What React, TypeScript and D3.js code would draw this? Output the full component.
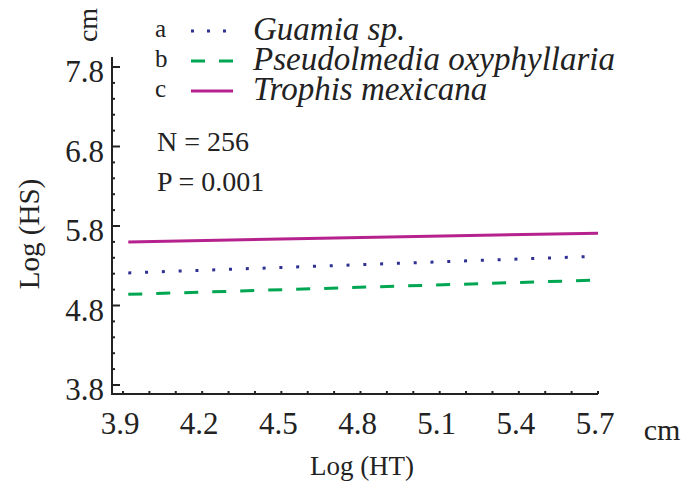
import React from "react";
import * as d3 from "d3";

const W = 686;
const H = 484;

// data
const species = ["Guamia sp.", "Pseudolmedia oxyphyllaria", "Trophis mexicana"];
const letters = ["a", "b", "c"];
const colors = ["#2e3192", "#00a651", "#b5228e"];
const dashes = ["3 13.8", "14 14", null];
const lineX = [3.92, 5.7];
const guamiaY = [5.21, 5.42];
const pseudoY = [4.94, 5.12];
const trophisY = [5.6, 5.71];
const seriesY = [guamiaY, pseudoY, trophisY];

const xTickLabels = [3.9, 4.2, 4.5, 4.8, 5.1, 5.4, 5.7];
const yTickLabels = [3.8, 4.8, 5.8, 6.8, 7.8];

const FONT = "'Times New Roman', 'Liberation Serif', 'DejaVu Serif', serif";

const App = () => {
  const xScale = d3.scaleLinear().domain([3.9, 5.7]).range([123, 598]);
  const yScale = d3.scaleLinear().domain([3.8, 7.8]).range([385, 67]);

  const axisLeft = 112;
  const axisBottom = 394;

  const xMinor = d3.range(39, 58).map((d) => d / 10);
  const yMinor = d3.range(19, 40).map((d) => d / 5);

  const line = d3
    .line<[number, number]>()
    .x((d) => xScale(d[0]))
    .y((d) => yScale(d[1]));

  return (
    <svg
      width={W}
      height={H}
      style={{ position: "absolute", left: 0, top: 0, background: "#fff" }}
    >
      <g style={{ fontFamily: FONT }}>
      {/* axes */}
      <g stroke="#222" strokeWidth={2} fill="none">
        <line x1={axisLeft} y1={57} x2={axisLeft} y2={axisBottom + 1} />
        <line x1={axisLeft - 1} y1={axisBottom} x2={598} y2={axisBottom} />
        {yMinor.map((v, i) => {
          const major = Math.abs(v - Math.round(v - 0.8) - 0.8) < 1e-6;
          return (
            <line
              key={"ym" + i}
              x1={axisLeft}
              x2={axisLeft + (major ? 8 : 3)}
              y1={yScale(v)}
              y2={yScale(v)}
            />
          );
        })}
        {xMinor.map((v, i) => (
          <line
            key={"xm" + i}
            x1={xScale(v)}
            x2={xScale(v)}
            y1={axisBottom}
            y2={axisBottom - 3}
          />
        ))}
      </g>

      {/* tick labels */}
      <g fontSize={31} fill="#222">
        {yTickLabels.map((v) => (
          <text key={"yl" + v} x={104} y={yScale(v) + 15} textAnchor="end">
            {v.toFixed(1)}
          </text>
        ))}
        {xTickLabels.map((v) => (
          <text key={"xl" + v} x={xScale(v) - 3} y={434} textAnchor="middle">
            {v.toFixed(1)}
          </text>
        ))}
      </g>

      {/* series */}
      {seriesY.map((ys, i) => (
        <path
          key={"s" + i}
          d={line([
            [lineX[0], ys[0]],
            [lineX[1], ys[1]],
          ]) || ""}
          fill="none"
          stroke={colors[i]}
          strokeWidth={3}
          strokeDasharray={dashes[i] || undefined}
        />
      ))}

      {/* legend */}
      {species.map((s, i) => {
        const y = 31 + i * 30;
        return (
          <g key={"lg" + i}>
            <text x={155} y={y + 6} fontSize={25} fill="#222">
              {letters[i]}
            </text>
            <line
              x1={191}
              x2={233}
              y1={y}
              y2={y}
              stroke={colors[i]}
              strokeWidth={3}
              strokeDasharray={dashes[i] ? (i === 0 ? "3 13" : "14 14") : undefined}
            />
            <text x={253} y={y + 9} fontSize={33} fontStyle="italic" fill="#222">
              {s}
            </text>
          </g>
        );
      })}

      {/* annotations */}
      <text x={157} y={151} fontSize={28} fill="#222">
        N = 256
      </text>
      <text x={157} y={191} fontSize={28} fill="#222">
        P = 0.001
      </text>

      {/* axis titles */}
      <text
        transform="translate(39,234) rotate(-90)"
        textAnchor="middle"
        fontSize={29}
        fill="#222"
      >
        Log (HS)
      </text>
      <text
        transform="translate(97,25) rotate(-90)"
        textAnchor="middle"
        fontSize={28}
        fill="#222"
      >
        cm
      </text>
      <text x={362} y={475} textAnchor="middle" fontSize={27} fill="#222">
        Log (HT)
      </text>
      <text x={662} y={440} textAnchor="middle" fontSize={30} fill="#222">
        cm
      </text>
      </g>
    </svg>
  );
};

export default App;
